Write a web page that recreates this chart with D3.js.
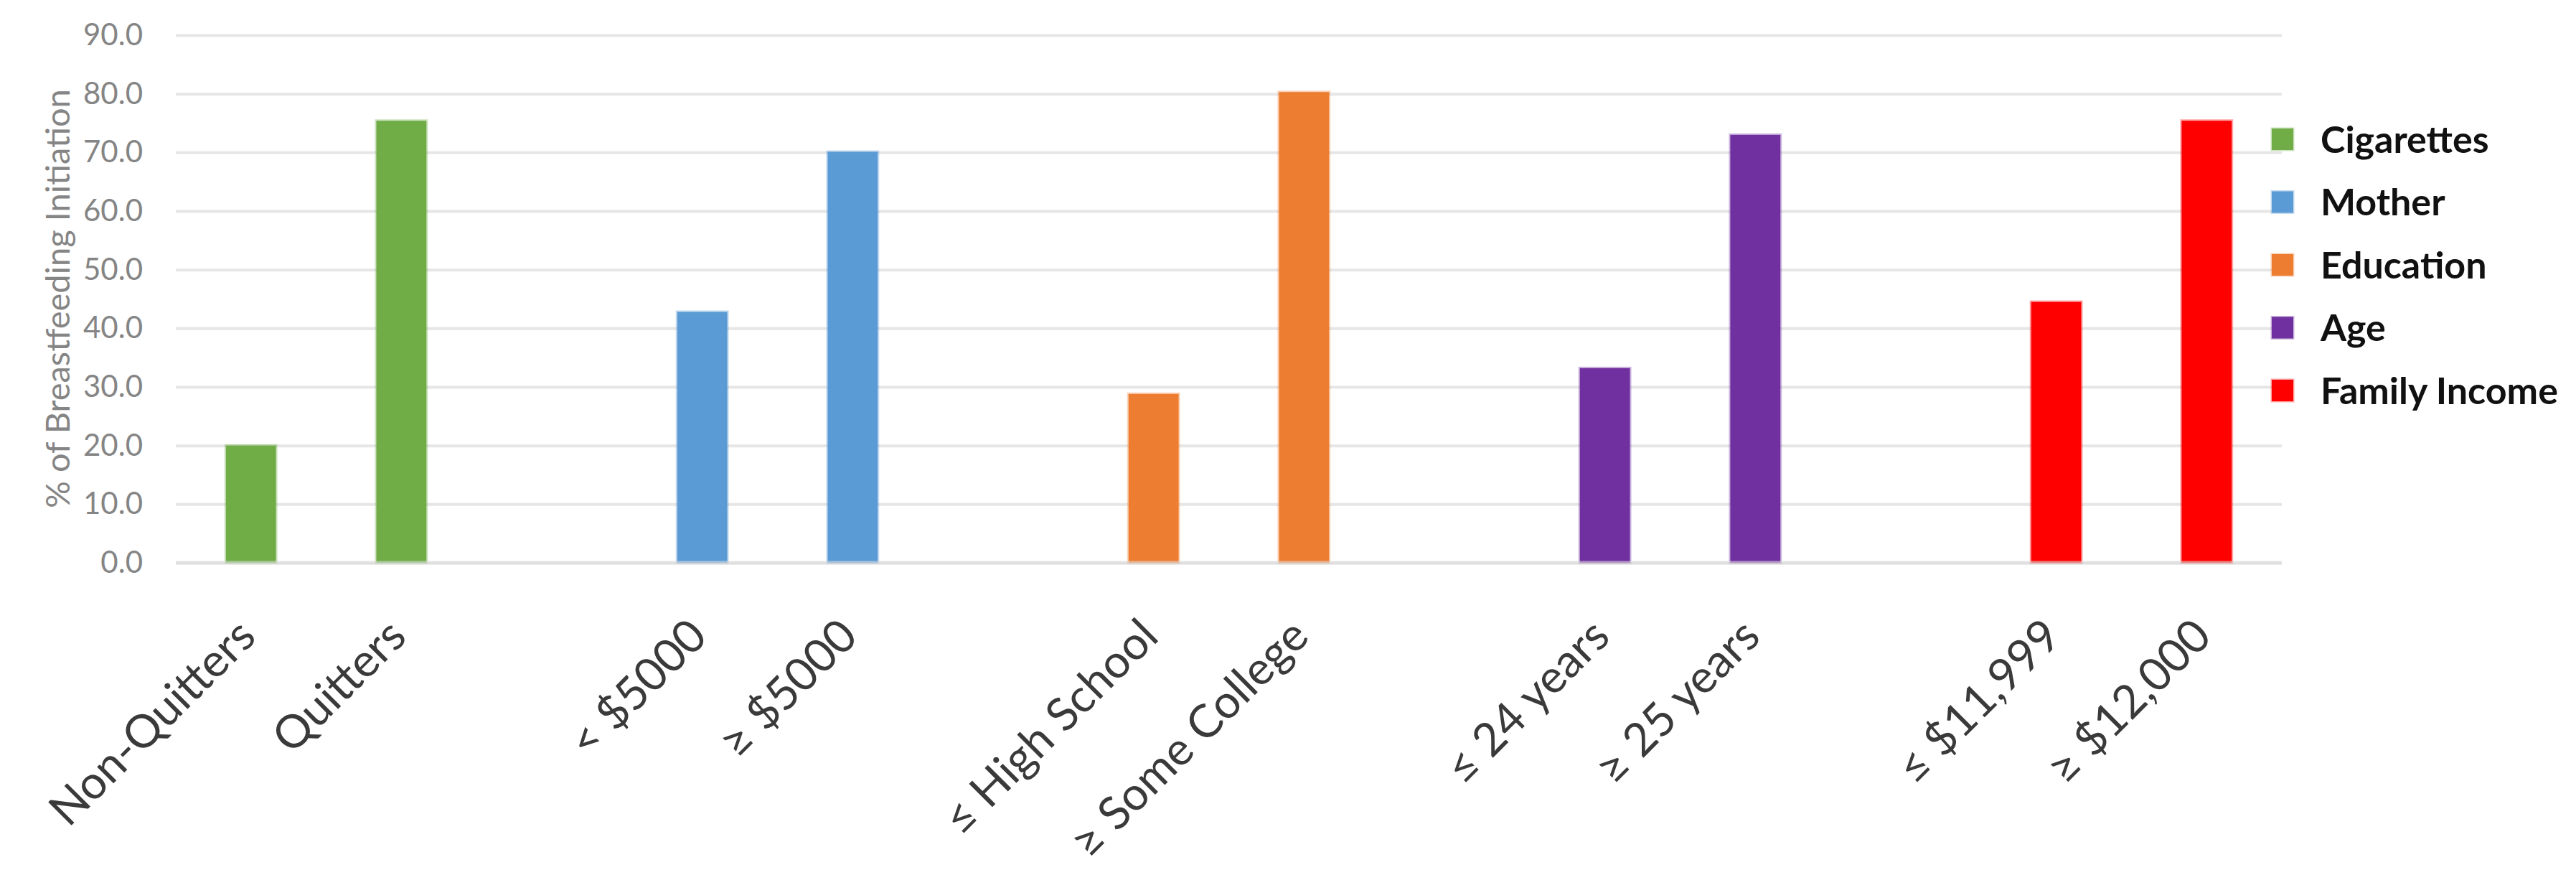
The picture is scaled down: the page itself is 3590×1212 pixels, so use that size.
<!DOCTYPE html>
<html>
<head>
<meta charset="utf-8">
<script src="https://cdn.jsdelivr.net/npm/d3@7"></script>
<style>
  body { margin: 0; background: #fff; }
</style>
</head>
<body>
<div id="chart-area"></div>
<script>
// values
var groups = ["Cigarettes", "Mother", "Education", "Age", "Family Income"];
var groupColors = ["#70AD47", "#5B9BD5", "#ED7D31", "#7030A0", "#FF0000"];
var categories = ["Non-Quitters", "Quitters", "< $5000", "\u2265 $5000",
                  "\u2264 High School", "\u2265 Some College", "\u2264 24 years", "\u2265 25 years",
                  "\u2264 $11,999", "\u2265 $12,000"];
var groupOf = [0, 0, 1, 1, 2, 2, 3, 3, 4, 4];
var values = [20.0, 75.4, 42.8, 70.1, 28.8, 80.3, 33.2, 73.0, 44.5, 75.4];
var yTicks = [0, 10, 20, 30, 40, 50, 60, 70, 80, 90];

var outerWidth = 3590;
var outerHeight = 1212;
var plot = {left: 245, right: 3180, top: 49, bottom: 784};

var svg = d3.select('#chart-area').append('svg')
            .attr('width', outerWidth)
            .attr('height', outerHeight)
            .style('display', 'block');

svg.append('rect')
   .attr('width', outerWidth)
   .attr('height', outerHeight)
   .attr('fill', '#fff');

// x slots: each group's categories, then an empty slot between groups
var slots = [];
groups.forEach(function(g, gi){
  categories.forEach(function(c, i){ if (groupOf[i] === gi) slots.push(c); });
  if (gi < groups.length - 1) slots.push('gap' + gi);
});

var xScale = d3.scaleBand()
               .domain(slots)
               .range([plot.left, plot.right])
               .paddingInner(0.667)
               .paddingOuter(0.333);

var yScale = d3.scaleLinear()
               .domain([0, 90])
               .range([plot.bottom, plot.top]);

// y axis with gridlines
var yAxis = d3.axisLeft(yScale)
              .tickValues(yTicks)
              .tickFormat(d3.format('.1f'))
              .tickSize(-(plot.right - plot.left))
              .tickPadding(46);

var yAxisG = svg.append('g')
                .attr('class', 'y axis')
                .attr('transform', 'translate(' + plot.left + ',0)')
                .call(yAxis);
yAxisG.select('.domain').remove();
yAxisG.selectAll('line')
      .attr('stroke', '#e6e6e6')
      .attr('stroke-width', 4);
yAxisG.selectAll('text')
      .attr('font-family', 'Lato, "Open Sans", sans-serif')
      .attr('font-size', '42px')
      .attr('fill', '#858585');

svg.append('text')
   .attr('class', 'y axisLabel')
   .attr('transform', 'translate(97,416) rotate(-90)')
   .attr('text-anchor', 'middle')
   .attr('font-family', 'Lato, "Open Sans", sans-serif')
   .attr('font-size', '47px')
   .attr('fill', '#858585')
   .text('% of Breastfeeding Initiation');

// bars
var barData = categories.map(function(c, i){
  return {cat: c, value: values[i], group: groupOf[i]};
});

svg.append('g')
   .attr('class', 'bars')
   .selectAll('rect')
   .data(barData)
   .enter().append('rect')
   .attr('x', function(d){ return xScale(d.cat); })
   .attr('y', function(d){ return yScale(d.value); })
   .attr('width', xScale.bandwidth())
   .attr('height', function(d){ return yScale(0) - yScale(d.value); })
   .attr('fill', function(d){ return groupColors[d.group]; })
   .attr('stroke', function(d){ return groupColors[d.group]; })
   .attr('stroke-opacity', 0.35)
   .attr('stroke-width', 4);

// zero line drawn over the bars
svg.append('line')
   .attr('x1', plot.left)
   .attr('x2', plot.right)
   .attr('y1', yScale(0))
   .attr('y2', yScale(0))
   .attr('stroke', '#dcdcdc')
   .attr('stroke-opacity', 0.6)
   .attr('stroke-width', 5);

// x axis labels, rotated
var xAxis = d3.axisBottom(xScale)
              .tickSize(0)
              .tickFormat(function(d){ return d.indexOf('gap') === 0 ? '' : d; });

var xAxisG = svg.append('g')
                .attr('class', 'x axis')
                .attr('transform', 'translate(0,874)')
                .call(xAxis);
xAxisG.select('.domain').remove();
xAxisG.selectAll('text')
      .attr('x', 0)
      .attr('y', 0)
      .attr('dy', '0.35em')
      .attr('text-anchor', 'end')
      .attr('transform', 'translate(-6,0) rotate(-45)')
      .attr('font-family', 'Lato, "Open Sans", sans-serif')
      .attr('font-size', '64px')
      .attr('fill', '#3a3a3a');

// legend
var legend = svg.append('g')
                .attr('class', 'legend')
                .selectAll('g')
                .data(groups)
                .enter().append('g')
                .attr('transform', function(d, i){ return 'translate(3166,' + (194 + i * 87.5) + ')'; });

legend.append('rect')
      .attr('x', 0)
      .attr('y', -15)
      .attr('width', 30)
      .attr('height', 30)
      .attr('fill', function(d, i){ return groupColors[i]; })
      .attr('stroke', function(d, i){ return groupColors[i]; })
      .attr('stroke-opacity', 0.35)
      .attr('stroke-width', 3);

legend.append('text')
      .attr('x', 68)
      .attr('y', 0)
      .attr('dy', '0.36em')
      .attr('font-family', 'Lato, "Open Sans", sans-serif')
      .attr('font-weight', 'bold')
      .attr('font-size', '52px')
      .attr('fill', '#111111')
      .text(function(d){ return d; });
</script>
</body>
</html>
